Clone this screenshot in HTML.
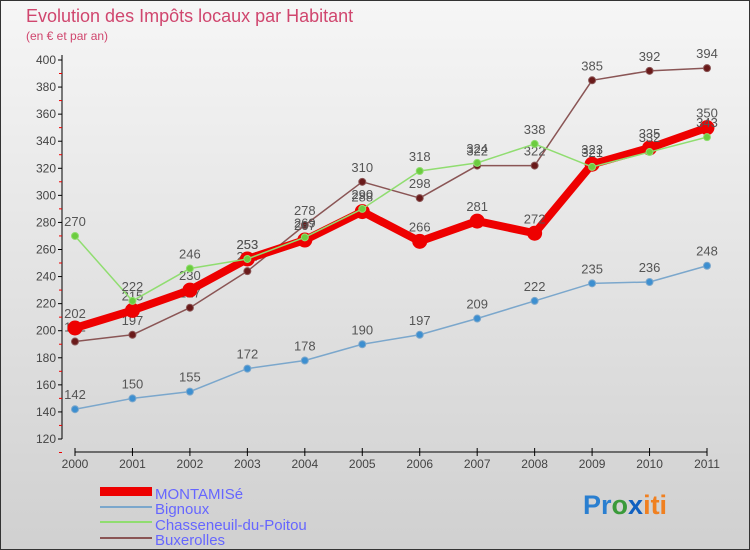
<!DOCTYPE html>
<html><head><meta charset="utf-8"><style>
body{margin:0;}
svg{display:block;font-family:"Liberation Sans",sans-serif;}
</style></head><body>
<svg width="750" height="550" viewBox="0 0 750 550" id="chart">
<defs><linearGradient id="bg" x1="0" y1="0" x2="0" y2="1"><stop offset="0" stop-color="#f6f6f6"/><stop offset="1" stop-color="#d0d0d0"/></linearGradient></defs>
<rect x="0.5" y="0.5" width="749" height="549" fill="url(#bg)" stroke="#333"/>
<text x="26" y="22" font-size="18" fill="#d0466e">Evolution des Impôts locaux par Habitant</text>
<text x="26" y="40" font-size="12" fill="#d0466e">(en € et par an)</text>
<g id="axes"></g>
<g id="series"></g>
<g id="legend">
<rect x="100" y="487" width="52" height="9" fill="#e00"/>
<text x="155" y="499" font-size="15" fill="#6666ff">MONTAMISé</text>
<rect x="100" y="506" width="52" height="2" fill="#7ba7cc"/>
<text x="155" y="514" font-size="15" fill="#6666ff">Bignoux</text>
<rect x="100" y="521" width="52" height="2" fill="#90dd70"/>
<text x="155" y="530" font-size="15" fill="#6666ff">Chasseneuil-du-Poitou</text>
<rect x="100" y="537" width="52" height="2" fill="#8a5555"/>
<text x="155" y="545" font-size="15" fill="#6666ff">Buxerolles</text>
</g>
<text x="583" y="514" font-size="27" font-weight="bold"><tspan fill="#2a7fd0">Pr</tspan><tspan fill="#3a9a3a">o</tspan><tspan fill="#1060c0">x</tspan><tspan fill="#f08020">iti</tspan></text>
</svg>
<script>
const years=["2000","2001","2002","2003","2004","2005","2006","2007","2008","2009","2010","2011"];
const montamise=[202,215,230,253,267,288,266,281,272,323,335,350];
const bignoux=[142,150,155,172,178,190,197,209,222,235,236,248];
const chasseneuil=[270,222,246,253,269,290,318,324,338,321,332,343];
const buxerolles=[192,197,217,244,278,310,298,322,322,385,392,394];
const yTicks=[120,140,160,180,200,220,240,260,280,300,320,340,360,380,400];
const NS="http://www.w3.org/2000/svg";
const x0=75,x1=707,yTop=60,yBot=439,yMin=120,yMax=400;
const xs=i=>x0+(x1-x0)*i/(years.length-1);
const ys=v=>yBot-(v-yMin)/(yMax-yMin)*(yBot-yTop);
function mk(tag,attrs,parent){const e=document.createElementNS(NS,tag);for(const k in attrs)e.setAttribute(k,attrs[k]);parent.appendChild(e);return e;}
const ax=document.getElementById('axes');
let l=mk('line',{x1:62,y1:yTop-5,x2:62,y2:yBot,stroke:'#000'},ax);


l=mk('line',{x1:75,y1:452,x2:707,y2:452,stroke:'#000'},ax);


yTicks.forEach(v=>{
 const y=ys(v);
 mk('line',{x1:58,y1:y,x2:62,y2:y,stroke:'#000'},ax);
 mk('line',{x1:59,y1:y+13.5,x2:62,y2:y+13.5,stroke:'#e00'},ax);
 const t=mk('text',{x:56,y:y+4,'font-size':12,'text-anchor':'end',fill:'#444'},ax);
 t.textContent=v;
 
 
});
years.forEach((yr,i)=>{
 const x=xs(i);
 mk('line',{x1:x,y1:448,x2:x,y2:456,stroke:'#000'},ax);
 const t=mk('text',{x:x,y:468,'font-size':12,'text-anchor':'middle',fill:'#444'},ax);
 t.textContent=yr;
 
 
});
const sg=document.getElementById('series');
function series(data,name,color,w,r,dot){
 const g=mk('g',{},sg);
 
 
 const p=mk('polyline',{points:data.map((v,i)=>xs(i)+','+ys(v)).join(' '),fill:'none',stroke:color,'stroke-width':w,'stroke-linejoin':'round'},g);
 
 
 data.forEach((v,i)=>{
  const c=mk('circle',{cx:xs(i),cy:ys(v),r:r,fill:dot,stroke:color,'stroke-width':1},g);
  
  
  const t=mk('text',{x:xs(i),y:ys(v)-10,'font-size':13,'text-anchor':'middle',fill:'#555'},g);
  t.textContent=v;
  
  
 });
}
series(bignoux,'bignoux','#7ba7cc',1.5,3.5,'#3d8fd0');
series(buxerolles,'buxerolles','#8a5555',1.5,3.5,'#6a1a1a');
series(montamise,'montamise','#ee0000',8,7,'#ee0000');
series(chasseneuil,'chasseneuil','#90dd70',1.5,3.5,'#6ccc40');
</script>
</body></html>
